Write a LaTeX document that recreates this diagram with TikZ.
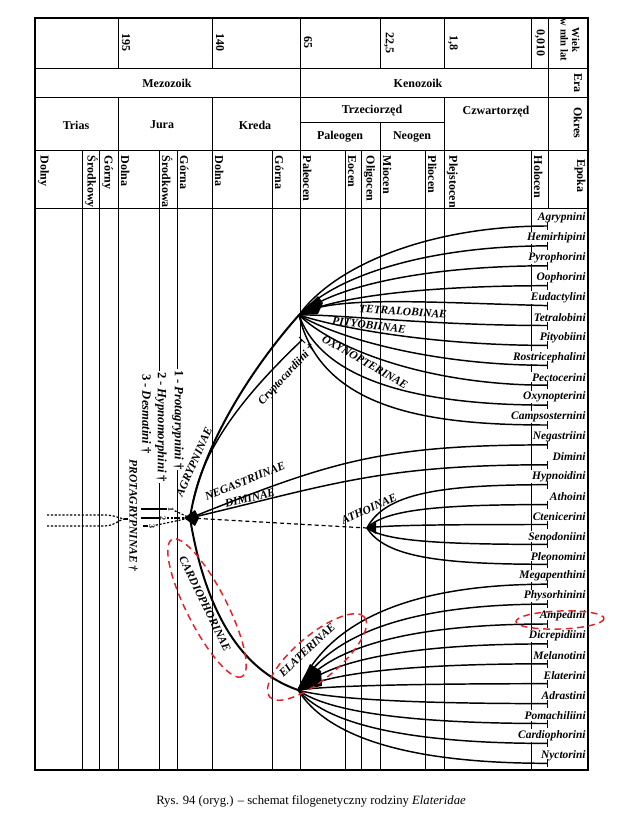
\documentclass[tikz,border=0pt]{standalone}
\usepackage{fontspec}
\setmainfont{Liberation Serif}
\usetikzlibrary{positioning}
\definecolor{ovalred}{RGB}{230, 32, 38}

\begin{document}
\begin{tikzpicture}[x=0.75pt, y=-0.75pt,
    gridline/.style={line width=0.5pt},
    outerframe/.style={line width=1pt},
    head/.style={font=\bfseries\fontsize{9}{10}\selectfont, inner sep=1pt},
    vhead/.style={head, rotate=-90, anchor=south west, inner sep=2pt},
    tribe/.style={font=\bfseries\itshape\fontsize{8.6}{10}\selectfont, anchor=east, fill=white, inner sep=0.8pt},
    subfam/.style={font=\bfseries\itshape\fontsize{8.6}{10}\selectfont, inner sep=0.5pt},
    legendtext/.style={font=\bfseries\fontsize{9.5}{10}\selectfont, rotate=-90, anchor=west, fill=white, inner sep=0.6pt},
    digitmark/.style={font=\bfseries\fontsize{6}{6}\selectfont, rotate=-90, inner sep=0.6pt},
    branch/.style={line width=1.1pt},
    trunk/.style={line width=1.5pt},
    dotline/.style={line width=0.9pt, dash pattern=on 1.6pt off 1.3pt},
    dashline/.style={line width=0.9pt, dash pattern=on 3pt off 2.2pt},
    endtick/.style={line width=0.7pt},
    redoval/.style={draw=ovalred, line width=1.1pt, dash pattern=on 5pt off 3.5pt}
]
\useasboundingbox (0,0) rectangle (624,823);

% Outer frame of the table
\draw[outerframe] (35,18) rectangle (588,770);

% Horizontal rules of the header
\draw[gridline] (35,68) -- (588,68);
\draw[gridline] (35,97) -- (588,97);
\draw[gridline] (300,122) -- (444,122);
\draw[gridline] (35,150) -- (588,150);
\draw[gridline] (35,208) -- (588,208);

% Vertical rules
\foreach \x in {118,212,380,444,531} \draw[gridline] (\x,18) -- (\x,68);
\draw[gridline] (300,18) -- (300,770);
\draw[gridline] (548,18) -- (548,208);
\foreach \x in {118,212,444} \draw[gridline] (\x,97) -- (\x,770);
\draw[gridline] (380,122) -- (380,770);
\foreach \x in {82,99,159,177,272,345,361,425,531} \draw[gridline] (\x,150) -- (\x,770);

% Age in million years
\foreach \x/\t in {118/195, 212/140, 300/65, 380/{22,5}, 444/{1,8}, 531/{0,010}}
    \node[head, rotate=-90, anchor=south, inner sep=2pt] at (\x+1,43) {\t};
\node[head, rotate=-90, align=center, font=\bfseries\fontsize{8}{8.5}\selectfont] (wiek) at (570,40) {Wiek\\w mln lat};

% Eras and periods
\node[head] (mezo) at (167,83) {Mezozoik};
\node[head] (keno) at (418,83) {Kenozoik};
\node[head, rotate=-90] (era) at (578,83) {Era};
\node[head] (trias) at (76,125) {Trias};
\node[head] (jura) at (162,125) {Jura};
\node[head] (kreda) at (255,125) {Kreda};
\node[head] (trzec) at (372,111) {Trzeciorzęd};
\node[head] (paleo) at (340,137) {Paleogen};
\node[head] (neo) at (412,137) {Neogen};
\node[head] (czwart) at (496,112) {Czwartorzęd};
\node[head, rotate=-90] (okres) at (578,123) {Okres};

% Epochs
\foreach \x/\t in {35/Dolny, 82/Środkowy, 99/Górny, 118/Dolna, 159/Środkowa, 177/Górna,
                   212/Dolna, 272/Górna, 300/Paleocen, 345/Eocen, 361/Oligocen, 380/Miocen,
                   425/Pliocen, 444/Plejstocen, 531/Holocen}
    \node[vhead] at (\x,153) {\t};
\node[head, rotate=-90] (epoka) at (580,176) {Epoka};

% Tribe names and branch ends
\foreach \name [count=\i from 0] in {Agrypnini, Hemirhipini, Pyrophorini, Oophorini, Eudactylini,
        Tetralobini, Pityobiini, Rostricephalini, Pectocerini, Oxynopterini, Campsosternini,
        Negastriini, Dimini, Hypnoidini, Athoini, Ctenicerini, Senodoniini, Pleonomini,
        Megapenthini, Physorhinini, Ampedini, Dicrepidiini, Melanotini, Elaterini, Adrastini,
        Pomachiliini, Cardiophorini, Nyctorini} {
    \node[tribe] (t\i) at (587,{218+19.9*\i}) {\name};
    \coordinate (e\i) at (547,{226+19.9*\i});
}

% Legend of extinct tribes
\node[legendtext] (l1) at (178,369) {1 - \textit{Protagrypnini} †};
\node[legendtext] (l2) at (161,371) {2 - \textit{Hypnomorphini} †};
\node[legendtext] (l3) at (146,373) {3 - \textit{Desmatini} †};
\node[subfam, rotate=-90, anchor=west] (protag) at (133,459) {PROTAGRYPNINAE †};

% Branch points
\coordinate (P) at (190,518);
\coordinate (T) at (299,315);
\coordinate (A) at (367,528);
\coordinate (E) at (298,690);
\coordinate (Cs) at (193,502);
\coordinate (Ce) at (302,340);

% Stem lines on the left
\coordinate (la) at (47,515);
\coordinate (lb) at (47,526);
\coordinate (J) at (124,519);
\draw[dotline] (la) -- (104,515) .. controls (114,515) and (119,518) .. (J);
\draw[dotline] (lb) -- (104,526) .. controls (114,526) and (119,520) .. (J);
\draw[line width=0.9pt] (J) -- (128,519);
\coordinate (s1) at (141,509);
\coordinate (s2) at (141,518);
\coordinate (s3) at (143,526);
\node[digitmark] (n1) at (171,509) {1};
\node[digitmark] (n2) at (163,518) {2};
\node[digitmark] (n3) at (152,526) {3};
\draw[line width=0.9pt] (s1) -- (n1);
\draw[line width=0.9pt] (s2) -- (n2);
\draw[line width=0.9pt] (s3) -- (n3);
\draw[dotline] (n1) -- (P);
\draw[dotline] (n2) -- (P);
\draw[dotline] (n3) -- (P);

% Main subfamilies from P
\draw[trunk] (P) .. controls +(10,-68) and +(-49,55) .. (T);
\draw[branch] (Cs) .. controls (205,440) and (255,385) .. (Ce);
\draw[endtick] (Ce) ++(-3,-3) -- ++(6,6);
\draw[branch] (P) .. controls +(140,-56) and +(-167,0) .. (e11);
\draw[branch] (P) .. controls +(140,-33) and +(-167,0) .. (e12);
\draw[dashline] (P) -- (A);
\draw[trunk] (P) .. controls (205,610) and (240,670) .. (E);

% Fan of Agrypninae, Tetralobinae, Pityobiinae, Oxynopterinae
\foreach \i/\ca/\cb/\cc in {0/36/-50/0, 1/36/-40/0, 2/36/-30/0, 3/36/-19/0, 4/31/-20/-3,
        5/36/-1/0, 6/36/12/0, 7/36/22/0, 8/36/35/0, 9/25/70/0, 10/22/95/0}
    \draw[branch] (T) .. controls +(\ca,\cb) and +(-117,\cc) .. (e\i);

% Fan of Athoinae
\foreach \i in {13,...,17} {
    \pgfmathsetmacro\dy{(226+19.9*\i-528)*0.8}
    \draw[branch] (A) .. controls +(18,\dy) and +(-107,0) .. (e\i);
}

% Fan of Elaterinae
\foreach \i in {18,...,27} {
    \pgfmathsetmacro\dy{(226+19.9*\i-690)*0.7}
    \draw[branch] (E) .. controls +(32,\dy) and +(-127,0) .. (e\i);
}

% End ticks
\foreach \i in {0,...,27} \draw[endtick] (e\i) ++(0,-4) -- ++(0,8);

% Black knots
\fill (184,518) -- (195,510) -- (199,518) -- (195,526) -- cycle;
\fill (T) -- (318,296) -- (323,303) -- (318,314) -- cycle;
\fill (A) -- (376,522) -- (376,534) -- cycle;
\fill (E) -- (310,664) -- (321,671) -- (322,686) -- cycle;

% Subfamily labels
\node[subfam, rotate=66] (agr) at (194,462) {AGRYPNINAE};
\node[subfam, rotate=47] (crypto) at (287,375) {Cryptocardiini †};
\node[subfam, rotate=-4] (tetra) at (403,311.5) {TETRALOBINAE};
\node[subfam, rotate=-7] (pityo) at (369,325) {PITYOBIINAE};
\node[subfam, rotate=-30] (oxy) at (365,362) {OXYNOPTERINAE};
\node[subfam, rotate=22] (nega) at (245,481) {NEGASTRIINAE};
\node[subfam, rotate=14] (dimi) at (250,498) {DIMINAE};
\node[subfam, rotate=25] (atho) at (369,509) {ATHOINAE};
\node[subfam, rotate=-64] (cardio) at (205,604) {CARDIOPHORINAE};
\node[subfam, rotate=43] (elat) at (307,650) {ELATERINAE};

% Red dashed marks
\draw[redoval, rotate around={-63:(207,608)}] (207,608) ellipse (77 and 20);
\draw[redoval, rotate around={40:(317,657)}] (317,657) ellipse (62 and 22);
\draw[redoval, rotate around={2:(560,620)}] (560,620) ellipse (44 and 9);

% Caption
\node[font=\fontsize{9.5}{11}\selectfont] (caption) at (311,801) {Rys. 94 (oryg.) -- schemat filogenetyczny rodziny \textit{Elateridae}};
\end{tikzpicture}
\end{document}
